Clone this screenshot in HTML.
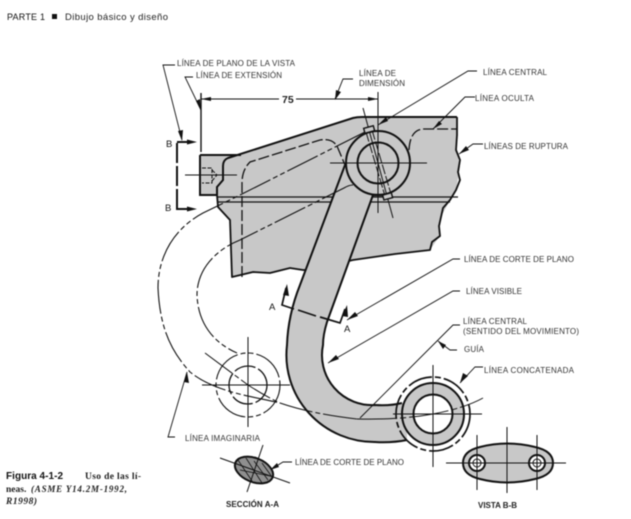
<!DOCTYPE html>
<html><head><meta charset="utf-8">
<style>
html,body{margin:0;padding:0;background:#fff;width:631px;height:519px;overflow:hidden}
svg{display:block;filter:blur(0.45px)}
text{font-family:"Liberation Sans",sans-serif}
.l{font-size:8px;fill:#333}
.s{fill:none;stroke:#111;stroke-width:1}
.h{fill:none;stroke:#111;stroke-width:2}
.d{fill:none;stroke:#111;stroke-width:1;stroke-dasharray:34 3 5 3}
.p{fill:none;stroke:#111;stroke-width:1.1;stroke-dasharray:34 3 5 3 5 3}
.u{fill:none;stroke:#111;stroke-width:1.3;stroke-dasharray:11 3}
.a{fill:#111;stroke:none}
.se{font-family:"Liberation Serif",serif;font-size:9.5px;font-weight:bold;fill:#222}
</style></head><body>
<svg width="631" height="519" viewBox="0 0 631 519" xmlns="http://www.w3.org/2000/svg">
<rect width="631" height="519" fill="#fff"/>

<!-- header -->
<text x="7" y="20" font-size="9" fill="#111" textLength="38">PARTE 1</text>
<rect x="52" y="14" width="5" height="5" fill="#111"/>
<text x="65" y="20" font-size="9.5" fill="#222" textLength="103">Dibujo básico y diseño</text>

<!-- caption -->
<text x="6" y="479" font-size="10" font-weight="bold" fill="#111" textLength="57">Figura 4-1-2</text>
<text x="85" y="479" class="se" textLength="56">Uso de las lí-</text>
<text x="6" y="492" class="se">neas.</text>
<text x="31" y="492" class="se" style="font-style:italic;font-size:9px" textLength="96">(ASME Y14.2M-1992,</text>
<text x="6" y="504" class="se" style="font-style:italic" textLength="31">R1998)</text>

<!-- gray plate -->
<path d="M200 155 L243 154 L353 118 Q357 117 362 117 L457 117 L457 150 L460 167 L456 190 L450 200 L441 217 L439 237 L430 250 L353 260 L340 263 L320 270 L303 270 L290 268 L270 273 L253 272 L232 277 L230 220 L218 207 L217 195 L200 195 Z" fill="#c8c8c8"/>
<path d="M200 155 L241 155 M200 155 L200 195 L217 195 M217 195 L217 187 L223 180 L223 166 Q223 160 228 158 L353 118 Q357 117 362 117 L457 117" class="h"/>
<path d="M457 117 L457 135 L456 150 L460 160 L458 172 L460 180 L456 190 L450 200 L443 208 L441 217 L439 226 L440 236 L432 242 L430 250 L395 254 L353 260 L340 263 L320 270 L303 270 L290 268 L270 273 L253 272 L232 277 L230 220 L218 207 L217 195" class="h" stroke-linejoin="round" style="stroke-width:1.8"/>
<path d="M217 197 L458 197 M217 202 L450 202" class="s" style="stroke-width:1.3"/>

<!-- hidden lines -->
<path d="M242 277 L242 183 Q242 170 250 162 L320 140 Q332 138 337 146 L345 165" class="u"/>
<path d="M409 150 Q410 130 423 129 L457 129" class="u"/>

<!-- arm -->
<path d="M345 165 L300 285 Q288 315 287 345 A88 87 0 0 0 375 442 Q392 443 407 440 L407 403 Q390 406 375 405 A50 50 0 0 1 323 345 Q323 335 327 322 L373 195 Z" fill="#c8c8c8"/>
<path d="M345 165 L300 285 Q288 315 287 345 A88 87 0 0 0 375 442 Q392 443 407 440" class="h"/>
<path d="M373 195 L327 322 Q323 335 323 345 A50 50 0 0 0 375 405 Q390 406 402 403" class="h"/>

<!-- upper ring -->
<circle cx="378" cy="163" r="32" fill="#c8c8c8" stroke="#111" stroke-width="2"/>
<circle cx="378" cy="163" r="20.5" fill="none" stroke="#111" stroke-width="2"/>
<path d="M330 163 H427 M378 92 V213" class="s"/>
<path d="M363 108 L393 218" class="s"/>
<path d="M366 132 L385 196 M372 130 L391 194" class="s" stroke-dasharray="10 2"/>
<path d="M373 195 H387" stroke="#111" stroke-width="2.4"/>
<rect x="364" y="127" width="10" height="5" transform="rotate(-15 369 129)" fill="#c8c8c8" stroke="#111" stroke-width="1.4"/>
<rect x="383" y="194" width="9" height="5" transform="rotate(-15 387 196)" fill="#c8c8c8" stroke="#111" stroke-width="1.4"/>

<!-- tab details -->
<path d="M185 175 H237" class="s"/>
<path d="M202 168 H212 V183 H202 M212 170 L217 175 L212 181" class="s" stroke-dasharray="4 1.5"/>

<!-- phantom lines -->
<path d="M365 132 L240 195 L203 213 C175 228 158 255 158 288 C160 330 172 352 190 372 C215 392 250 396 280 403" class="p"/>
<path d="M353 185 Q349 185 344 188 L240 240 C215 250 197 270 197 295 C198 322 212 342 237 353" class="p"/>

<!-- center curve -->
<path d="M205 353 L248 385 Q265 396 280 403 Q312 414 357 419" class="d"/>

<!-- left circles -->
<circle cx="248" cy="385" r="32" class="p"/>
<circle cx="248" cy="385" r="19" class="u" style="stroke-dasharray:22 3"/>
<path d="M202 385 H290 M248 337 V427" class="s"/>

<!-- lower ring -->
<circle cx="433" cy="414" r="31" fill="#c8c8c8" stroke="#111" stroke-width="2"/>
<circle cx="433" cy="414" r="19.5" fill="#fff" stroke="#111" stroke-width="2"/>
<circle cx="433" cy="414" r="37" fill="none" stroke="#111" stroke-width="1.7" stroke-dasharray="25 3 6 3"/>
<path d="M393 414 H482 M433 365 V467" class="s"/>
<path d="M357 419 Q400 420 433 414 Q465 408 483 398" class="s" stroke-dasharray="40 3 6 3"/>

<!-- B cutting plane -->
<path d="M177 143 V209" class="h" stroke-dasharray="20 3 20 3 20"/>
<path d="M177 142 H190 M176 209 H190" class="h"/>
<path class="a" d="M197 142 L187 139.5 V144.5 Z M197 209 L187 206.5 V211.5 Z"/>
<text x="166" y="147" font-size="9.5" fill="#111">B</text>
<text x="165" y="211" font-size="9.5" fill="#111">B</text>

<!-- A cutting plane -->
<path d="M286 288 L282 305 L294 309 M298 310 L316 316 M320 317 L340 323 L345 309" class="h" style="stroke-width:1.7"/>
<path class="a" d="M287 284 L283 295 L289 296 Z M347 305 L342 316 L348 317 Z"/>
<text x="269" y="310" font-size="9.5" fill="#111">A</text>
<text x="344" y="332" font-size="9.5" fill="#111">A</text>

<!-- dimension -->
<path d="M201 93 V152" class="s" style="stroke-width:1.4"/>
<path d="M201 99 H279 M296 99 H378" class="s"/>
<path class="a" d="M201 99 L211 97 V101 Z M378 99 L368 97 V101 Z"/>
<text x="282" y="103" font-size="10.5" font-weight="bold" fill="#222">75</text>

<!-- leaders -->
<g class="s" style="stroke-width:.9">
<path d="M175 65 H163 L182 140"/>
<path d="M193 77 H185 L201 110"/>
<path d="M353 79 H343 L335 99"/>
<path d="M477 71 H468 L378 125"/>
<path d="M475 97 H465 L433 129"/>
<path d="M483 144 H473 L459 154"/>
<path d="M460 259 H453 L347 320"/>
<path d="M460 291 H453 L328 363"/>
<path d="M460 325 H453 L360 418"/>
<path d="M457 350 H450 L438 341"/>
<path d="M483 367 H475 L460 383"/>
<path d="M175 437 H168 L187 372"/>
<path d="M292 462 H283 L270 470"/>
</g>
<path class="a" d="M182 141 L178 131 L183 130 Z M201 111 L196 101 L200 99 Z M335 100 L336 90 L341 92 Z M378 125 L386 117 L388 121 Z M433 129 L439 121 L442 124 Z M459 154 L466 146 L469 150 Z M347 320 L355 312 L358 316 Z M328 363 L336 355 L339 359 Z M438 341 L446 345 L443 349 Z M460 383 L463 373 L468 376 Z M187 372 L184 382 L189 383 Z M270 470 L277 463 L279 467 Z"/>

<!-- labels -->
<g class="l">
<text x="177" y="66" textLength="118">LÍNEA DE PLANO DE LA VISTA</text>
<text x="196" y="78" textLength="86">LÍNEA DE EXTENSIÓN</text>
<text x="359" y="76" textLength="37">LÍNEA DE</text>
<text x="359" y="86" textLength="46">DIMENSIÓN</text>
<text x="483" y="75" textLength="64">LÍNEA CENTRAL</text>
<text x="475" y="101" textLength="59">LÍNEA OCULTA</text>
<text x="484" y="149" textLength="84">LÍNEAS DE RUPTURA</text>
<text x="464" y="262" textLength="110">LÍNEA DE CORTE DE PLANO</text>
<text x="466" y="294" textLength="56">LÍNEA VISIBLE</text>
<text x="463" y="324" textLength="64">LÍNEA CENTRAL</text>
<text x="463" y="334" textLength="116">(SENTIDO DEL MOVIMIENTO)</text>
<text x="464" y="352" textLength="20">GUÍA</text>
<text x="484" y="373" textLength="90">LÍNEA CONCATENADA</text>
<text x="185" y="441" textLength="75">LÍNEA IMAGINARIA</text>
<text x="295" y="465" textLength="109">LÍNEA DE CORTE DE PLANO</text>
<text x="226" y="507" textLength="53" font-weight="bold" fill="#222">SECCIÓN A-A</text>
<text x="478" y="508" textLength="39" font-weight="bold" fill="#222">VISTA B-B</text>
</g>

<!-- section A-A -->
<ellipse cx="254" cy="470" rx="20" ry="12" transform="rotate(22 254 470)" fill="#8f8f8f" stroke="#111" stroke-width="2"/>
<path d="M238 460 L252 481 M246 458 L262 483 M254 461 L268 480 M262 463 L272 477 M240 470 L270 476" class="s" style="stroke-width:.8"/>
<path d="M220 458 L290 483 M263 445 L247 492" class="s"/>

<!-- view B-B -->
<path d="M463 463 Q463 451 480 447 Q507 440 535 447 Q553 451 553 463 Q553 475 535 479 Q507 486 480 479 Q463 475 463 463 Z" fill="#c8c8c8" stroke="#111" stroke-width="2"/>
<circle cx="477" cy="463" r="8" fill="#fff" stroke="#111" stroke-width="2"/>
<circle cx="537" cy="463" r="8" fill="#fff" stroke="#111" stroke-width="2"/>
<circle cx="477" cy="463" r="4" fill="none" stroke="#111"/>
<circle cx="537" cy="463" r="4" fill="none" stroke="#111"/>
<path d="M446 463 H566 M507 427 V493 M477 435 V490 M537 435 V490" class="s"/>
</svg>
</body></html>
